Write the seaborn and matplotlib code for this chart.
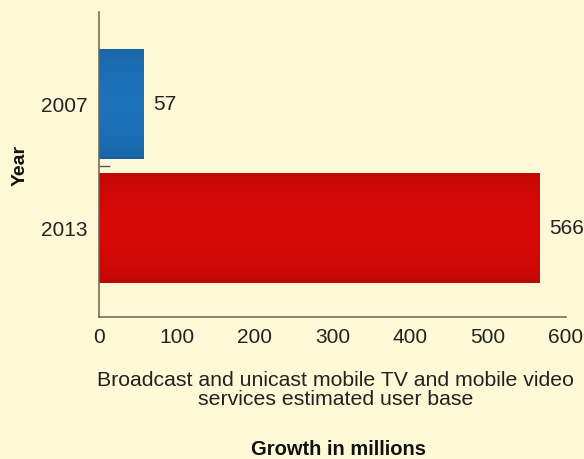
import matplotlib
matplotlib.use("Agg")
import matplotlib.pyplot as plt
import seaborn as sns
import pandas as pd
import numpy as np

years = ["2007", "2013"]
users = [57, 566]
bar_colors = ["#1c6fb6", "#d40808"]
x_ticks = [0, 100, 200, 300, 400, 500, 600]
x_title = "Broadcast and unicast mobile TV and mobile video\nservices estimated user base"
x_subtitle = "Growth in millions"
y_title = "Year"

bg = "#fdf9d7"
sns.set_theme(style="white")
plt.rcParams["font.family"] = ["Liberation Sans", "DejaVu Sans"]

df = pd.DataFrame({"Year": years, "Users": users})

fig = plt.figure(figsize=(5.84, 4.6), dpi=100, facecolor=bg)
ax = fig.add_axes([0.1695, 0.3087, 0.7997, 0.663])
ax.set_facecolor(bg)

sns.barplot(data=df, x="Users", y="Year", hue="Year", palette=bar_colors,
            orient="h", width=0.89, legend=False, ax=ax, saturation=1)

# subtle shading on bars
for patch, col in zip(ax.patches, bar_colors):
    patch.set_edgecolor("none")
    x0, y0 = patch.get_x(), patch.get_y()
    w, h = patch.get_width(), patch.get_height()
    base = np.array(matplotlib.colors.to_rgb(col))
    t = np.linspace(0, 1, 64)
    shade = 0.88 + 0.14 * np.sin(np.pi * t) ** 0.5
    img = np.clip(base[None, :] * shade[:, None], 0, 1)[:, None, :]
    im = ax.imshow(img, extent=[x0, x0 + w, y0 + h, y0], aspect="auto",
                   interpolation="bilinear", zorder=patch.get_zorder() + 0.1)
    im.set_clip_path(patch)

ax.set_xlim(0, 600)
ax.set_ylim(1.72, -0.74)
ax.set_xticks(x_ticks)
ax.set_xticklabels([str(v) for v in x_ticks], fontsize=15, color="#222222")
ax.tick_params(axis="x", direction="in", length=5, width=1, color="#555555", pad=7)
ax.set_yticks([0, 1])
ax.set_yticklabels(years, fontsize=15, color="#222222")
ax.tick_params(axis="y", length=0, pad=8)
ax.set_yticks([0.5], minor=True)
ax.tick_params(axis="y", which="minor", direction="in", length=8, width=1, color="#555555", left=True)
ax.set_xlabel("")
ax.set_ylabel("")

for s in ["top", "right"]:
    ax.spines[s].set_visible(False)
for s in ["left", "bottom"]:
    ax.spines[s].set_color("#6b6550")
    ax.spines[s].set_linewidth(1.1)

for i, v in enumerate(users):
    ax.text(v + 12, i, str(v), va="center", ha="left", fontsize=15, color="#222222", clip_on=False)

fig.text(0.575, 0.152, x_title, ha="center", va="center", fontsize=15.3,
         color="#222222", linespacing=1.0)
fig.text(0.58, 0.022, x_subtitle, ha="center", va="center", fontsize=14.5,
         fontweight="bold", color="#111111")
fig.text(0.035, 0.64, y_title, ha="center", va="center", fontsize=14,
         fontweight="bold", rotation=90, color="#111111")

fig.savefig("out.png", dpi=100, facecolor=bg)
